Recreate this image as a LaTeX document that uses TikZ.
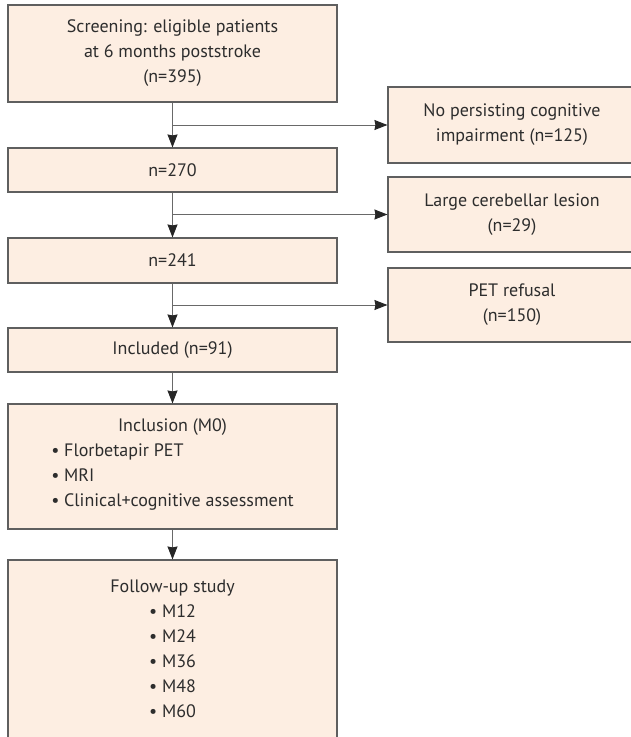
\documentclass[tikz,border=0pt]{standalone}
\usepackage{fontspec}
\setmainfont{PT Sans}
\usetikzlibrary{arrows.meta, positioning}
\definecolor{boxfill}{RGB}{253, 238, 226}
\definecolor{boxline}{RGB}{95, 95, 95}
\definecolor{linegray}{RGB}{105, 105, 105}
\definecolor{textgray}{RGB}{45, 45, 45}
\tikzset{
  flowbox/.style={draw=boxline, fill=boxfill, line width=1.1pt, align=center, inner sep=0pt, text=textgray, font=\fontsize{18}{25}\selectfont},
  leftbox/.style={flowbox, minimum width=329pt},
  exclbox/.style={flowbox, minimum width=248pt},
  flowarrow/.style={draw=linegray, line width=1pt, -{Stealth[length=13pt, width=10pt, inset=1pt, color=black!85]}},
}

\begin{document}
\begin{tikzpicture}[x=1pt, y=1pt]
  \useasboundingbox (0,0) rectangle (631,-737);
  % main column
  \node[leftbox, minimum height=97pt] (screen) at (172.5,-53.5) {Screening: eligible patients\\at 6 months poststroke\\(n=395)};
  \node[leftbox, minimum height=44pt] (n270) at (172.5,-170) {n=270};
  \node[leftbox, minimum height=45pt] (n241) at (172.5,-260.5) {n=241};
  \node[leftbox, minimum height=44pt] (incl) at (172.5,-350) {Included (n=91)};
  \node[leftbox, minimum height=125pt] (m0) at (172.5,-466.5) {Inclusion (M0)\\
    \begin{tabular}[t]{@{}l@{}}
      \textbullet\ Florbetapir PET\\
      \textbullet\ MRI\\
      \textbullet\ Clinical+cognitive assessment
    \end{tabular}};
  \node[leftbox, minimum height=185pt] (fu) at (172.5,-652.5) {Follow-up study\\
    \begin{tabular}[t]{@{}l@{}}
      \textbullet\ M12\\
      \textbullet\ M24\\
      \textbullet\ M36\\
      \textbullet\ M48\\
      \textbullet\ M60
    \end{tabular}};

  % excluded
  \node[exclbox, minimum height=76pt] (ex1) at (512,-125) {No persisting cognitive\\impairment (n=125)};
  \node[exclbox, minimum height=75pt] (ex2) at (512,-214.5) {Large cerebellar lesion\\(n=29)};
  \node[exclbox, minimum height=74pt] (ex3) at (512,-305) {PET refusal\\(n=150)};

  % arrows
  \draw[flowarrow] (screen) -- (n270);
  \draw[flowarrow] (n270) -- (n241);
  \draw[flowarrow] (n241) -- (incl);
  \draw[flowarrow] (incl) -- (m0);
  \draw[flowarrow] (m0) -- (fu);
  \draw[flowarrow] (screen.south |- ex1) -- (ex1);
  \draw[flowarrow] (n270.south |- ex2) -- (ex2);
  \draw[flowarrow] (n241.south |- ex3) -- (ex3);
\end{tikzpicture}
\end{document}
